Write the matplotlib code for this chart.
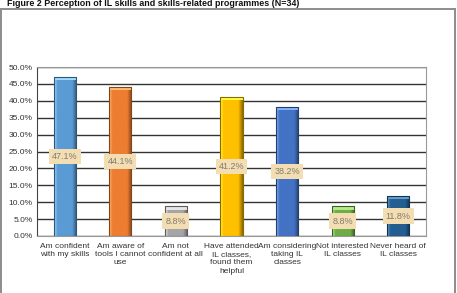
import numpy as np
import matplotlib.pyplot as plt
import matplotlib.colors as mcolors
from matplotlib.patches import Rectangle

plt.rcParams['font.family'] = ['Liberation Sans', 'DejaVu Sans']

# data
categories = ["Am confident\nwith my skills", "Am aware of\ntools I cannot\nuse",
              "Am not\nconfident at all", "Have attended\nIL classes,\nfound them\nhelpful",
              "Am considering\ntaking IL\nclasses", "Not interested\nIL classes",
              "Never heard of\nIL classes"]
values = [47.1, 44.1, 8.8, 41.2, 38.2, 8.8, 11.8]
colors = ["#5B9BD5", "#ED7D31", "#A5A5A5", "#FFC000", "#4472C4", "#70AD47", "#255E91"]
yticks = [0, 5, 10, 15, 20, 25, 30, 35, 40, 45, 50]

fig = plt.figure(figsize=(4.57, 2.93), dpi=100)
fig.patch.set_facecolor("white")

# outer frame + title
fig.patches.append(Rectangle((1 / 457, -0.05), 454 / 457, 1 - 9 / 293 + 0.05,
                             transform=fig.transFigure, fill=False,
                             edgecolor="#8c8c8c", linewidth=1.4))
fig.text(7 / 457, 1 - 3 / 293, "Figure 2 Perception of IL skills and skills-related programmes (N=34)",
         fontsize=6.4, fontweight="bold", va="center", ha="left", color="#111111")

ax = fig.add_axes([37 / 457, 1 - 236 / 293, 389 / 457, 169 / 293])
x = np.arange(len(values))
bw = 0.4

ax.set_axisbelow(True)
ax.yaxis.grid(True, color="#333333", linewidth=1.0)
bars = ax.bar(x, values, width=bw, color=colors, edgecolor="none", zorder=2)

# bevel-ish shading
for b, c in zip(bars, colors):
    rgb = np.array(mcolors.to_rgb(c))
    t = np.linspace(0, 1, 64)
    light = np.clip(rgb + 0.25, 0, 1)
    dark = rgb * 0.55
    grad = np.zeros((1, 64, 3))
    for i, tt in enumerate(t):
        if tt < 0.15:
            w = tt / 0.15
            grad[0, i] = light * (1 - w) + rgb * w
        elif tt < 0.8:
            grad[0, i] = rgb
        else:
            w = (tt - 0.8) / 0.2
            grad[0, i] = rgb * (1 - w) + dark * w
    x0, y0 = b.get_x(), b.get_y()
    w_, h_ = b.get_width(), b.get_height()
    im = ax.imshow(grad, extent=[x0, x0 + w_, y0, y0 + h_], aspect="auto", zorder=3)
    im.set_clip_path(b)
    ax.add_patch(Rectangle((x0, y0 + h_ - 1.0), w_, 1.0, facecolor=light, edgecolor="none", zorder=4))
    ax.add_patch(Rectangle((x0, y0), w_, h_, fill=False, edgecolor=dark, linewidth=0.8, zorder=5))

for xi, v in zip(x, values):
    ax.text(xi, v / 2, f"{v:.1f}%", ha="center", va="center", fontsize=6.5, color="#857b6e", zorder=6,
            bbox=dict(boxstyle="square,pad=0.35", facecolor="#F3DDB2", edgecolor="none"))

ax.set_xlim(-0.5, len(values) - 0.5)
ax.set_ylim(0, 50)
ax.set_yticks(yticks)
ax.set_yticklabels([f"{t:.1f}%" for t in yticks], fontsize=6, color="#333333")
ax.set_xticks(x)
ax.set_xticklabels(categories, fontsize=6.0, color="#333333", linespacing=1.25)
ax.tick_params(axis="y", length=0, pad=3)
ax.tick_params(axis="x", length=0, pad=5)
for s in ["top", "right"]:
    ax.spines[s].set_color("#999999")
ax.spines["left"].set_color("#444444")
ax.spines["bottom"].set_color("#999999")

fig.savefig("out.png", dpi=100)
